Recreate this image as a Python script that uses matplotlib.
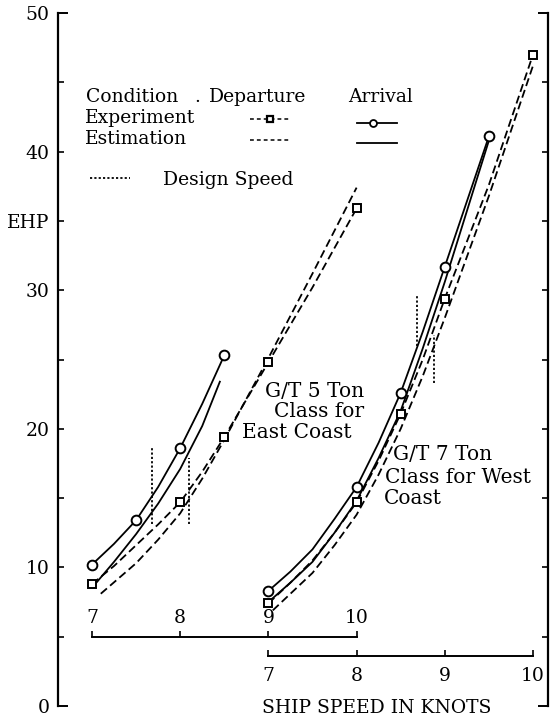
import matplotlib
matplotlib.use('Agg')
import matplotlib.pyplot as plt

plt.rcParams['font.family'] = ['DejaVu Serif']

# G/T 5 Ton class for East Coast (speed in knots, EHP)
dep5_exp_speed = [7.0, 8.0, 8.5, 9.0, 10.0]
dep5_exp_ehp = [8.8, 14.7, 19.4, 24.8, 35.9]
dep5_line_speed = [7.0, 7.25, 7.5, 7.75, 8.0, 8.25, 8.5, 9.0, 9.5, 10.0]
dep5_line_ehp = [8.8, 10.1, 11.6, 13.1, 14.7, 16.9, 19.4, 24.8, 30.2, 35.9]
dep5_est_speed = [7.1, 7.5, 7.75, 8.0, 8.25, 8.5, 9.0, 9.5, 10.0]
dep5_est_ehp = [8.1, 10.3, 12.0, 13.9, 16.4, 19.2, 25.1, 31.2, 37.4]

arr5_exp_speed = [7.0, 7.5, 8.0, 8.5]
arr5_exp_ehp = [10.2, 13.4, 18.6, 25.3]
arr5_line_speed = [7.0, 7.25, 7.5, 7.75, 8.0, 8.25, 8.5]
arr5_line_ehp = [10.2, 11.7, 13.4, 15.8, 18.6, 21.8, 25.3]
arr5_est_speed = [7.05, 7.25, 7.5, 7.75, 8.0, 8.25, 8.45]
arr5_est_ehp = [8.9, 10.4, 12.4, 14.6, 17.1, 20.2, 23.4]

design5_speed = [7.68, 8.10]
design5_low = [13.1, 13.1]
design5_high = [18.6, 17.9]

# G/T 7 Ton class for West Coast
dep7_exp_speed = [7.0, 8.0, 8.5, 9.0, 10.0]
dep7_exp_ehp = [7.4, 14.7, 21.1, 29.4, 47.0]
dep7_line_speed = [7.0, 7.25, 7.5, 7.75, 8.0, 8.25, 8.5, 8.75, 9.0, 9.5, 10.0]
dep7_line_ehp = [7.4, 8.9, 10.5, 12.5, 14.7, 17.7, 21.1, 25.0, 29.4, 37.6, 47.0]
dep7_est_speed = [7.05, 7.25, 7.5, 7.75, 8.0, 8.25, 8.5, 8.75, 9.0, 9.5, 10.0]
dep7_est_ehp = [6.9, 8.1, 9.6, 11.6, 13.8, 16.7, 20.0, 23.8, 28.0, 36.8, 46.2]

arr7_exp_speed = [7.0, 8.0, 8.5, 9.0, 9.5]
arr7_exp_ehp = [8.3, 15.8, 22.6, 31.7, 41.1]
arr7_line_speed = [7.0, 7.25, 7.5, 7.75, 8.0, 8.25, 8.5, 8.75, 9.0, 9.5]
arr7_line_ehp = [8.3, 9.7, 11.3, 13.5, 15.8, 19.0, 22.6, 27.0, 31.7, 41.1]
arr7_est_speed = [7.0, 7.25, 7.5, 7.75, 8.0, 8.25, 8.5, 8.75, 9.0, 9.5]
arr7_est_ehp = [7.5, 8.9, 10.4, 12.5, 14.8, 17.9, 21.3, 25.8, 30.6, 40.8]

design7_speed = [8.69, 8.875]
design7_low = [26.0, 23.3]
design7_high = [29.7, 26.8]

speed_ticks = [7, 8, 9, 10]

FS = 13.5
DASH = (0, (4.5, 2.3))
DOT = (0, (1.2, 1.2))
LW = 1.3

fig = plt.figure(figsize=(5.56, 7.24), dpi=100)
ax = fig.add_axes([58/556, 18/724, 490/556, 693/724])
ax.set_xlim(6.615, 12.17)
ax.set_ylim(0, 50)

# second speed scale for the 7 ton boat, shifted by 2 knots
ax7 = ax.twiny()
ax7.set_xlim(4.615, 10.17)
ax7.axis('off')

for s in ['top', 'bottom']:
    ax.spines[s].set_visible(False)
for s in ['left', 'right']:
    ax.spines[s].set_linewidth(1.6)
ax.set_xticks([])
ax.set_yticks([0, 50])
ax.set_yticklabels(['0', '50'])
ax.set_yticks([5, 10, 15, 20, 25, 30, 35, 40, 45], minor=True)
ax.set_yticklabels(['', '10', '', '20', '', '30', 'EHP', '40', ''], minor=True)
ax.tick_params(axis='y', which='both', direction='in', left=True, right=True,
               labelsize=FS, pad=6)
ax.tick_params(axis='y', which='major', length=7, width=1.4)
ax.tick_params(axis='y', which='minor', length=4, width=1.2)

# 5 ton data
ax.plot(dep5_line_speed, dep5_line_ehp, color='k', lw=LW, ls=DASH)
ax.plot(dep5_est_speed, dep5_est_ehp, color='k', lw=LW, ls=DASH)
ax.plot(dep5_exp_speed, dep5_exp_ehp, ls='none', marker='s', ms=6,
        mfc='white', mec='k', mew=1.4, zorder=4)
ax.plot(arr5_line_speed, arr5_line_ehp, color='k', lw=LW)
ax.plot(arr5_est_speed, arr5_est_ehp, color='k', lw=LW)
ax.plot(arr5_exp_speed, arr5_exp_ehp, ls='none', marker='o', ms=7,
        mfc='white', mec='k', mew=1.4, zorder=4)
ax.vlines(design5_speed, design5_low, design5_high, color='k', lw=1.3, ls=DOT)

# 7 ton data
ax7.plot(dep7_line_speed, dep7_line_ehp, color='k', lw=LW, ls=DASH)
ax7.plot(dep7_est_speed, dep7_est_ehp, color='k', lw=LW, ls=DASH)
ax7.plot(dep7_exp_speed, dep7_exp_ehp, ls='none', marker='s', ms=6,
         mfc='white', mec='k', mew=1.4, zorder=4)
ax7.plot(arr7_line_speed, arr7_line_ehp, color='k', lw=LW)
ax7.plot(arr7_est_speed, arr7_est_ehp, color='k', lw=LW)
ax7.plot(arr7_exp_speed, arr7_exp_ehp, ls='none', marker='o', ms=7,
         mfc='white', mec='k', mew=1.4, zorder=4)
ax7.vlines(design7_speed, design7_low, design7_high, color='k', lw=1.3, ls=DOT)

# speed scale for 5 ton (labels above)
sx5 = ax.inset_axes([7, 3, 3, 2], transform=ax.transData)
sx5.set_xlim(7, 10)
sx5.patch.set_visible(False)
for s in ['left', 'right', 'bottom']:
    sx5.spines[s].set_visible(False)
sx5.spines['top'].set_linewidth(1.4)
sx5.set_yticks([])
sx5.xaxis.tick_top()
sx5.set_xticks(speed_ticks)
sx5.tick_params(axis='x', direction='out', length=4, width=1.2, labelsize=FS, pad=3)

# speed scale for 7 ton (labels below)
sx7 = ax7.inset_axes([7, 3.6, 3, 1], transform=ax7.transData)
sx7.set_xlim(7, 10)
sx7.patch.set_visible(False)
for s in ['left', 'right', 'top']:
    sx7.spines[s].set_visible(False)
sx7.spines['bottom'].set_linewidth(1.4)
sx7.set_yticks([])
sx7.set_xticks(speed_ticks)
sx7.tick_params(axis='x', direction='in', length=4, width=1.2, labelsize=FS, pad=8)

fig.text(377/556, 11/724, 'SHIP SPEED IN KNOTS', ha='center', va='baseline', fontsize=FS)

# legend block
ax.text(6.93, 43.58, 'Condition', fontsize=FS, va='baseline')
ax.text(8.16, 43.58, '.', fontsize=FS, va='baseline')
ax.text(8.33, 43.58, 'Departure', fontsize=FS, va='baseline')
ax.text(9.90, 43.58, 'Arrival', fontsize=FS, va='baseline')
ax.text(6.92, 42.06, 'Experiment', fontsize=FS, va='baseline')
ax.text(6.92, 40.55, 'Estimation', fontsize=FS, va='baseline')
ax.plot([8.79, 9.245], [42.35, 42.35], color='k', lw=1.1, ls=(0, (2.5, 2)))
ax.plot([9.02], [42.35], marker='s', ms=4.5, mfc='white', mec='k', mew=1.6)
ax.plot([8.79, 9.245], [40.84, 40.84], color='k', lw=1.1, ls=(0, (2.5, 2)))
ax.plot([10.0, 10.46], [42.06, 42.06], color='k', lw=1.3)
ax.plot([10.19], [42.06], marker='o', ms=5, mfc='white', mec='k', mew=1.3)
ax.plot([10.0, 10.46], [40.62, 40.62], color='k', lw=1.3)
ax.plot([6.98, 7.43], [38.10, 38.10], color='k', lw=1.3, ls=DOT)
ax.text(7.80, 37.59, 'Design Speed', fontsize=FS, va='baseline')

# class labels
LFS = 14.5
ax.text(8.96, 22.29, 'G/T 5 Ton', fontsize=LFS, va='baseline')
ax.text(9.06, 20.85, 'Class for', fontsize=LFS, va='baseline')
ax.text(8.70, 19.34, 'East Coast', fontsize=LFS, va='baseline')
ax.text(10.41, 17.75, 'G/T 7 Ton', fontsize=LFS, va='baseline')
ax.text(10.32, 16.09, 'Class for West', fontsize=LFS, va='baseline')
ax.text(10.31, 14.57, 'Coast', fontsize=LFS, va='baseline')

fig.savefig('out.png', dpi=100)
